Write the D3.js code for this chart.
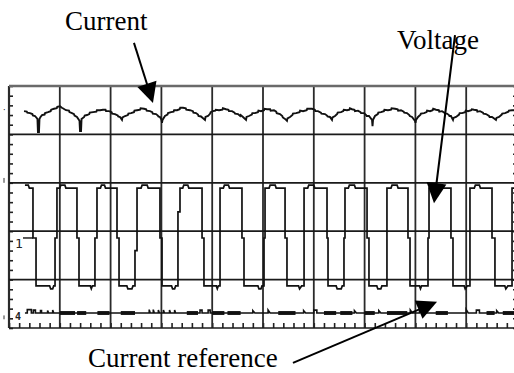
<!DOCTYPE html>
<html><head><meta charset="utf-8">
<script src="https://cdn.jsdelivr.net/npm/d3@7"></script>
<style>html,body{margin:0;padding:0;background:#fff;}svg{display:block;}</style>
</head><body>
<script>
// ---- data (time in µs, 50 µs/div; level in divisions, 0 = bottom of screen) ----
const gridTimes = [0, 50, 100, 150, 200, 250, 300, 350, 400, 450, 500];
const gridLevels = [0, 1, 2, 3, 4, 5];

const currentTrace = [
  [14.8,4.48],[17.5,4.47],[18,4.45],[20.7,4.44],[23,4.42],[23.5,4.39],[25.6,4.38],[28.0,4.32],[28.5,4.05],[29.5,4.05],
  [30.0,4.32],[31,4.36],[32.5,4.40],[35,4.41],[35.5,4.44],[38.4,4.46],[41,4.48],[41.5,4.51],[44.3,4.53],[47,4.54],
  [47.5,4.57],[50.2,4.58],[52,4.55],[53,4.54],[56.1,4.50],[59,4.49],[59.5,4.46],[62.0,4.44],[64,4.42],[64.5,4.39],
  [66.9,4.36],[69.4,4.28],[69.9,4.07],[70.9,4.07],[71.4,4.32],[74,4.36],[74.5,4.39],[76.8,4.40],[79,4.42],[79.5,4.45],
  [82.7,4.46],[86,4.47],[86.5,4.50],[89.6,4.50],[92.5,4.51],[95,4.51],[95.5,4.48],[98.4,4.48],[101,4.46],[101.5,4.43],
  [104.3,4.42],[107,4.39],[107.5,4.37],[109.3,4.36],[111.2,4.30],[111.7,4.35],[114.2,4.38],[117,4.40],[117.5,4.43],[120.1,4.44],
  [123,4.46],[123.5,4.49],[126.0,4.50],[129,4.51],[129.5,4.54],[132.9,4.53],[135,4.52],[135.5,4.49],[138.8,4.48],[141,4.46],
  [141.5,4.43],[144.7,4.42],[146.5,4.39],[147,4.37],[148.6,4.36],[150.1,4.30],[150.6,4.24],[151.1,4.30],[153.5,4.38],[156,4.41],
  [156.5,4.44],[159.5,4.46],[162,4.47],[162.5,4.50],[165.4,4.50],[168,4.52],[168.5,4.55],[171.3,4.55],[174,4.54],[174.5,4.51],
  [178.2,4.50],[181,4.48],[181.5,4.45],[184.1,4.44],[186,4.41],[186.5,4.38],[189.0,4.37],[192.9,4.30],[193.4,4.36],[195.9,4.38],
  [198,4.43],[198.5,4.46],[200.8,4.48],[203,4.49],[203.5,4.51],[206.7,4.50],[210,4.51],[210.5,4.54],[213.6,4.52],[216,4.51],
  [216.5,4.48],[219.5,4.48],[222,4.45],[222.5,4.43],[225.4,4.42],[227.5,4.38],[228,4.40],[230.3,4.36],[233.3,4.30],[233.8,4.36],
  [236.2,4.38],[239,4.41],[239.5,4.44],[242.1,4.44],[245,4.46],[245.5,4.49],[248.0,4.48],[251,4.50],[251.5,4.53],[253.9,4.52],
  [257,4.52],[257.5,4.49],[260.8,4.50],[263,4.47],[263.5,4.44],[266.7,4.42],[269,4.38],[269.5,4.35],[271.7,4.32],[273.6,4.28],
  [274.1,4.33],[276.6,4.36],[279,4.40],[279.5,4.43],[282.5,4.44],[286,4.46],[286.5,4.49],[289.4,4.48],[293,4.50],[293.5,4.53],
  [298.2,4.53],[301,4.51],[301.5,4.48],[304.1,4.48],[307,4.45],[307.5,4.43],[311.0,4.42],[313,4.39],[313.5,4.37],[315.9,4.36],
  [317.9,4.30],[318.4,4.35],[320.9,4.38],[323,4.42],[323.5,4.45],[326.8,4.46],[329,4.48],[329.5,4.51],[332.7,4.50],[335,4.51],
  [335.5,4.54],[337.6,4.52],[340,4.51],[340.5,4.48],[343.5,4.49],[346,4.46],[346.5,4.44],[349.4,4.44],[351.5,4.40],[352,4.38],
  [354.3,4.38],[357.3,4.30],[357.8,4.17],[358.3,4.30],[360.2,4.38],[363,4.42],[363.5,4.45],[366.1,4.46],[369,4.48],[369.5,4.51],
  [373.0,4.50],[376,4.51],[376.5,4.54],[379.9,4.53],[382.5,4.52],[383,4.49],[385.8,4.50],[388.5,4.47],[389,4.45],[391.7,4.44],
  [394,4.40],[394.5,4.38],[396.7,4.36],[399.6,4.28],[400.1,4.24],[400.6,4.30],[402.6,4.36],[405,4.41],[405.5,4.43],[408.5,4.44],
  [411,4.46],[411.5,4.49],[414.4,4.48],[417,4.50],[417.5,4.53],[420.3,4.51],[423,4.50],[423.5,4.47],[426.2,4.48],[428.5,4.45],
  [429,4.43],[431.1,4.43],[433,4.40],[433.5,4.38],[435.0,4.38],[437.0,4.30],[437.5,4.34],[440.0,4.36],[443,4.41],[443.5,4.44],
  [445.9,4.44],[449,4.46],[449.5,4.49],[451.8,4.48],[455,4.50],[455.5,4.52],[457.7,4.51],[460.5,4.50],[461,4.47],[463.6,4.48],
  [466.5,4.45],[467,4.43],[469.5,4.42],[472.5,4.38],[473,4.36],[475.4,4.36],[477.5,4.33],[479.3,4.30],[479.8,4.34],[482.3,4.36],
  [485,4.41],[485.5,4.43],[488.2,4.44],[491.5,4.47],[492,4.49],[495.1,4.50],[497.5,4.50],[498,4.53],[500,4.52]
];

const voltageTrace = [
  [15.7,2.95],[19,2.95],[20,2.89],[23.6,2.89],[23.6,1.86],[26.6,1.86],[26.6,0.87],
  [40,0.87],[41,0.81],[43,0.81],[44,0.87],[45.3,0.87],[45.3,1.86],[47.2,1.86],[47.2,2.89],
  [50,2.89],[51,2.95],[55,2.95],[56,2.89],[66.9,2.89],[66.9,1.86],[68.9,1.86],[68.9,0.87],
  [80,0.87],[81,0.81],[82,0.87],[84.6,0.87],[84.6,1.86],[86.6,1.86],[86.6,2.89],
  [90,2.89],[91,2.95],[94,2.95],[95,2.89],[106.3,2.89],[106.3,1.86],[108.3,1.86],[108.3,0.87],
  [116,0.87],[117,0.81],[121,0.81],[122,0.87],[124,0.87],[124,1.60],[126,1.60],[126,2.89],
  [130,2.89],[131,2.95],[136,2.95],[137,2.89],[148.6,2.89],[148.6,1.86],[150.6,1.86],[150.6,0.87],
  [160,0.87],[161,0.81],[163,0.81],[164,0.87],[166.3,0.87],[166.3,2.40],[168.3,2.40],[168.3,2.89],
  [171,2.89],[172,2.95],[176,2.95],[177,2.89],[190,2.89],[190,1.86],[191.9,1.86],[191.9,0.87],
  [204,0.87],[205,0.81],[206,0.87],[207.7,0.87],[207.7,2.89],
  [211,2.89],[212,2.95],[216,2.95],[217,2.89],[229.3,2.89],[229.3,1.86],[231.3,1.86],[231.3,0.87],
  [245,0.87],[246,0.81],[248,0.81],[249,0.87],[251,0.87],[251,1.86],[252,1.86],[252,2.89],
  [256,2.89],[257,2.95],[262,2.95],[263,2.89],[271.7,2.89],[271.7,1.86],[273.6,1.86],[273.6,0.87],
  [285,0.87],[286,0.81],[288,0.87],[290.4,0.87],[290.4,2.89],
  [294,2.89],[295,2.95],[300,2.95],[301,2.89],[313,2.89],[313,1.86],[314,1.86],[314,0.87],
  [322,0.87],[323,0.81],[327,0.81],[328,0.87],[329.7,0.87],[329.7,1.86],[330.7,1.86],[330.7,2.89],
  [334,2.89],[335,2.95],[340,2.95],[341,2.89],[352.4,2.89],[352.4,1.86],[354.3,1.86],[354.3,0.87],
  [362,0.87],[363,0.81],[366,0.81],[367,0.87],[372,0.87],[372,2.89],
  [376,2.89],[377,2.95],[382,2.95],[383,2.89],[392.7,2.89],[392.7,1.86],[394.7,1.86],[394.7,0.87],
  [404,0.87],[405,0.81],[406,0.87],[412.4,0.87],[412.4,1.86],[413.4,1.86],[413.4,2.89],
  [417,2.89],[418,2.95],[422,2.95],[423,2.89],[435,2.89],[435,1.86],[437,1.86],[437,0.87],
  [448,0.87],[449,0.81],[451,0.87],[453.7,0.87],[453.7,2.89],
  [458,2.89],[459,2.95],[463,2.95],[464,2.89],[475.4,2.89],[475.4,1.86],[478.3,1.86],[478.3,0.87],
  [488,0.87],[489,0.81],[491,0.87],[495.1,0.87],[495.1,2.89],[500,2.89]
];

const referenceTrace = [
  [15.7,0.31],[18,0.31],[18,0.38],[22,0.38],[22,0.31],[24,0.31],[24,0.37],[26,0.37],[26,0.31],
  [31,0.31],[31,0.36],[32,0.36],[32,0.31],[38,0.31],[38,0.36],[39,0.31],[43,0.31],[43,0.37],[44,0.31],
  [138,0.31],[138,0.38],[139,0.31],[142,0.31],[142,0.38],[143,0.31],[147,0.31],[147,0.37],[148,0.31],
  [152,0.31],[152,0.37],[153,0.31],[158,0.31],[158,0.37],[159,0.31],[163,0.31],[163,0.37],[164,0.31],
  [188,0.31],[188,0.37],[190,0.37],[190,0.31],[196,0.31],[196,0.37],[198,0.37],[198,0.31],
  [240,0.31],[240,0.36],[242,0.31],[255,0.31],[255,0.37],[257,0.31],[290,0.31],[290,0.36],[292,0.31],
  [300,0.31],[300,0.37],[303,0.37],[303,0.31],[340,0.31],[340,0.36],[342,0.31],[364,0.31],[364,0.36],[366,0.31],
  [395,0.31],[395,0.37],[397,0.31],[404,0.31],[404,0.37],[407,0.37],[407,0.31],[450,0.31],[450,0.38],[452,0.31],
  [460,0.31],[460,0.37],[463,0.37],[463,0.31],[480,0.31],[480,0.36],[482,0.31],[500,0.31]
];
const referenceBursts = [
  [50,65],[67,76],[87,99],[110,124],[175,186],[200,212],[215,228],[265,282],[310,322],[326,338],[350,360],[372,392],[420,432],[470,478],[486,498]
];

// annotation anchors (data units)
const annLabels = ["Current", "Voltage", "Current reference"];
const annTextPos = [[55.1,6.16],[381.9,5.76],[77.8,-0.81]];
const annTail = [[123.0,5.89],[439.0,6.05],[279.5,-0.72]];
const annTip = [[141.7,4.65],[418.3,2.58],[421.3,0.54]];

// ---- drawing ----
const W = 514, H = 373;
const svg = d3.select("body").append("svg").attr("width", W).attr("height", H);
const x = d3.scaleLinear().domain([0, 500]).range([9, 517]);
const y = d3.scaleLinear().domain([0, 5]).range([328, 86]);

// minor ticks
const gL = svg.append("g").attr("transform", `translate(${x(0)},0)`)
  .call(d3.axisRight(y).ticks(25).tickSize(4).tickFormat(""));
const gR = svg.append("g").attr("transform", `translate(${x(500)},0)`)
  .call(d3.axisLeft(y).ticks(25).tickSize(4).tickFormat(""));
const gB = svg.append("g").attr("transform", `translate(0,${y(0)})`)
  .call(d3.axisTop(x).ticks(50).tickSize(5).tickFormat(""));
[gL, gR, gB].forEach(g => {
  g.select(".domain").remove();
  g.selectAll("line").attr("stroke", "#222").attr("stroke-width", 1.6);
});

// grid
svg.append("g").selectAll("line").data(gridTimes).join("line")
  .attr("x1", d => x(d)).attr("x2", d => x(d)).attr("y1", y(5)).attr("y2", y(0))
  .attr("stroke", "#2a2a2a").attr("stroke-width", d => d === 0 ? 2.2 : 1.8);
svg.append("g").selectAll("line").data(gridLevels).join("line")
  .attr("x1", x(0)).attr("x2", x(500)).attr("y1", d => y(d)).attr("y2", d => y(d))
  .attr("stroke", d => d === 5 ? "#6a6a6a" : "#1a1a1a").attr("stroke-width", d => d === 5 ? 2.4 : 1.7);

// markers on the left edge
svg.append("text").attr("x", 3).attr("y", y(4.45)).attr("font-family", "DejaVu Sans").attr("font-size", 8).text("·");
svg.append("line").attr("x1", 4).attr("x2", 4).attr("y1", y(3.1)).attr("y2", y(3.0)).attr("stroke", "#333").attr("stroke-width", 1);
svg.append("line").attr("x1", 4).attr("x2", 4).attr("y1", y(0.26)).attr("y2", y(0.18)).attr("stroke", "#333").attr("stroke-width", 1);
svg.append("text").attr("x", 15).attr("y", y(1.66)).attr("font-family", "DejaVu Sans Mono").attr("font-size", 13).attr("fill", "#222").text("1");
svg.append("line").attr("x1", 23).attr("x2", 33).attr("y1", y(1.86)).attr("y2", y(1.86)).attr("stroke", "#222").attr("stroke-width", 1.5);
svg.append("text").attr("x", 15).attr("y", y(0.16)).attr("font-family", "DejaVu Sans Mono").attr("font-size", 10).attr("font-weight", "bold").attr("fill", "#222").text("4");

// traces
const line = d3.line().x(d => x(d[0])).y(d => y(d[1]));
svg.append("g").selectAll("rect").data(referenceBursts).join("rect")
  .attr("x", d => x(d[0])).attr("width", d => x(d[1]) - x(d[0]))
  .attr("y", y(0.35)).attr("height", y(0.27) - y(0.35)).attr("fill", "#111");
svg.append("path").datum(referenceTrace).attr("d", line)
  .attr("fill", "none").attr("stroke", "#111").attr("stroke-width", 1.6);
svg.append("path").datum(voltageTrace).attr("d", line)
  .attr("fill", "none").attr("stroke", "#111").attr("stroke-width", 1.7);
svg.append("path").datum(currentTrace).attr("d", line)
  .attr("fill", "none").attr("stroke", "#111").attr("stroke-width", 1.9);

// annotations
annLabels.forEach((lab, i) => {
  svg.append("text").attr("x", x(annTextPos[i][0])).attr("y", y(annTextPos[i][1]))
    .attr("font-family", "Liberation Serif, Times New Roman, serif").attr("font-size", 27)
    .attr("fill", "#000").text(lab);
  const tx = x(annTail[i][0]), ty = y(annTail[i][1]);
  const px = x(annTip[i][0]), py = y(annTip[i][1]);
  const dx = px - tx, dy = py - ty, L = Math.hypot(dx, dy);
  const ux = dx / L, uy = dy / L, hl = 20, hw = 10;
  const bx = px - ux * hl, by = py - uy * hl;
  svg.append("line").attr("x1", tx).attr("y1", ty).attr("x2", bx + ux * 2).attr("y2", by + uy * 2)
    .attr("stroke", "#000").attr("stroke-width", 2);
  svg.append("path").attr("d", `M${px},${py}L${bx - uy * hw},${by + ux * hw}L${bx + uy * hw},${by - ux * hw}Z`)
    .attr("fill", "#000");
});
</script>
</body></html>
